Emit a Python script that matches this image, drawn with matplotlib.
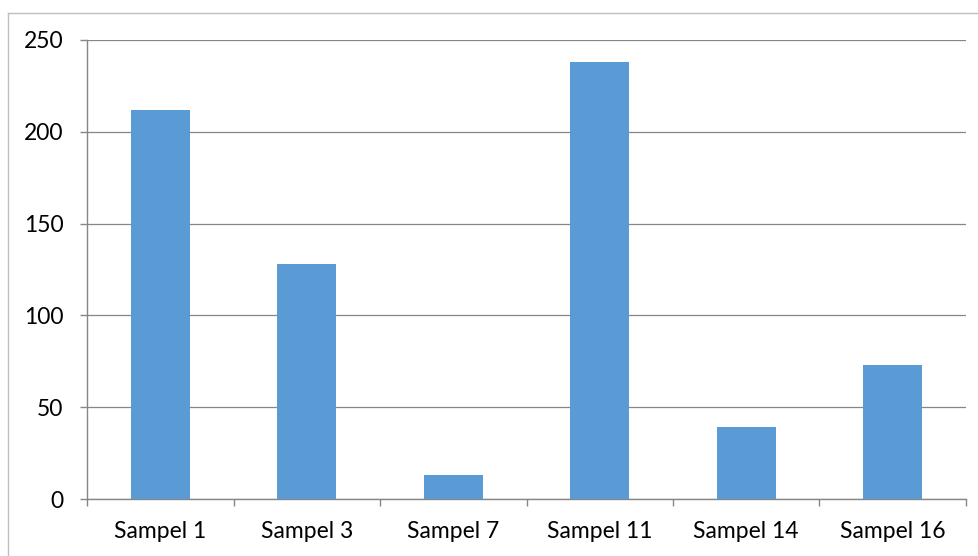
import matplotlib
matplotlib.use("Agg")
import matplotlib.pyplot as plt
from matplotlib.lines import Line2D

categories = ["Sampel 1", "Sampel 3", "Sampel 7", "Sampel 11", "Sampel 14", "Sampel 16"]
values = [212, 128, 13, 238, 39, 73]
yticks = [0, 50, 100, 150, 200, 250]

plt.rcParams['font.family'] = ['Lato', 'DejaVu Sans']

W, H = 979, 556
fig = plt.figure(figsize=(W/100, H/100), dpi=100)
# outer chart border (left and top visible)
fig.lines.append(Line2D([8.5/W, 8.5/W], [0, (H-12.5)/H], transform=fig.transFigure,
                        color='#BFBFBF', linewidth=1))
fig.lines.append(Line2D([8.5/W, 1], [(H-12.5)/H, (H-12.5)/H], transform=fig.transFigure,
                        color='#BFBFBF', linewidth=1))

ax = fig.add_axes([87/W, (H-499)/H, (966-87)/W, (499-40)/H])
x = list(range(len(categories)))
ax.bar(x, values, width=0.4, color='#5B9BD5', zorder=3)
ax.set_xlim(-0.5, len(categories)-0.5)
ax.set_ylim(0, 250)
ax.set_yticks(yticks)
ax.set_yticklabels([str(v) for v in yticks])
ax.yaxis.grid(True, color='#868686', linewidth=0.9, zorder=0)
ax.set_xticks(x)
ax.set_xticklabels(categories)
ax.set_xticks([i - 0.5 for i in range(len(categories)+1)], minor=True)
ax.tick_params(axis='x', which='major', length=0, pad=16, labelsize=16.5)
ax.tick_params(axis='x', which='minor', length=5, color='#868686', width=1)
ax.tick_params(axis='y', length=5, color='#868686', width=1, pad=12, labelsize=16.5)
for s in ['top', 'right']:
    ax.spines[s].set_visible(False)
for s in ['left', 'bottom']:
    ax.spines[s].set_color('#868686')
    ax.spines[s].set_linewidth(1)

fig.savefig("out.png", dpi=100)
